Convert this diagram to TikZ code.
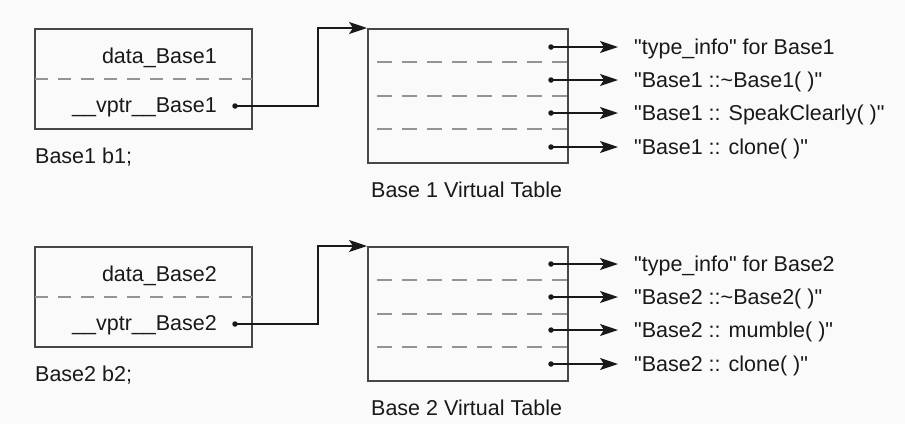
\documentclass[tikz,border=0pt]{standalone}
\usepackage{fontspec}
\setmainfont{Liberation Sans}[Ligatures=TeXOff]
\usetikzlibrary{arrows.meta}
\begin{document}
\begin{tikzpicture}[x=1pt,y=-1pt,
  every node/.style={font=\fontsize{21.5}{24}\selectfont, text=black!90, inner sep=0pt},
  objbox/.style={draw=black!72, line width=2pt, minimum width=217pt, minimum height=100pt, inner sep=0pt},
  vtbox/.style={draw=black!72, line width=2pt, minimum width=200pt, minimum height=134pt, inner sep=0pt},
  sep/.style={draw=black!42, line width=2.5pt, dash pattern=on 13pt off 10pt},
  vsep/.style={draw=black!42, line width=2.5pt, dash pattern=on 15pt off 10pt},
  ptr/.style={draw=black!90, line width=1.6pt, -{Stealth[length=18pt,width=12pt,inset=4pt]}},
  dotp/.style={circle, fill=black!90, minimum size=5.5pt, inner sep=0pt},
  lab/.style={anchor=west, text height=16pt, text depth=1pt}
]
\useasboundingbox (0,0) rectangle (905,424);
\fill[black!2] (0,0) rectangle (905,424);

% ---------- Base1 ----------
\node[objbox] (obj1) at (143.5,79) {};
\draw[sep] (35,79) -- (252,79);
\node[anchor=base east] (d1) at (217,63) {data\_Base1};
\node[anchor=base east] (v1) at (217,112) {\_\_vptr\_\_Base1};
\node[anchor=base west] (b1) at (35,163) {Base1 b1;};
\node[dotp] (p1) at (235,106) {};

\node[vtbox] (vt1) at (468,96) {};
\draw[vsep] (377,62) -- (568,62);
\draw[vsep] (377,96) -- (568,96);
\draw[vsep] (377,129) -- (568,129);
\node[anchor=base west] (vt1cap) at (371,197) {Base 1 Virtual Table};

\draw[ptr] (p1.center) -- ++(83,0) |- (vt1.north west);

\node[dotp] (e11) at (551,47) {};
\node[dotp] (e12) at (551,80) {};
\node[dotp] (e13) at (551,113) {};
\node[dotp] (e14) at (551,147) {};
\node[lab] (l11) at (634,47) {"type\_info" for Base1};
\node[lab] (l12) at (634,80) {"Base1 ::\textasciitilde Base1( )"};
\node[lab] (l13) at (634,113) {"Base1 :: SpeakClearly( )"};
\node[lab] (l14) at (634,147) {"Base1 :: clone( )"};
\draw[ptr] (e11.center) -- (618,47);
\draw[ptr] (e12.center) -- (618,80);
\draw[ptr] (e13.center) -- (618,113);
\draw[ptr] (e14.center) -- (618,147);

% ---------- Base2 ----------
\node[objbox] (obj2) at (143.5,297) {};
\draw[sep] (35,297) -- (252,297);
\node[anchor=base east] (d2) at (217,281) {data\_Base2};
\node[anchor=base east] (v2) at (217,330) {\_\_vptr\_\_Base2};
\node[anchor=base west] (b2) at (35,381) {Base2 b2;};
\node[dotp] (p2) at (235,324) {};

\node[vtbox] (vt2) at (468,314) {};
\draw[vsep] (377,280) -- (568,280);
\draw[vsep] (377,314) -- (568,314);
\draw[vsep] (377,347) -- (568,347);
\node[anchor=base west] (vt2cap) at (371,415) {Base 2 Virtual Table};

\draw[ptr] (p2.center) -- ++(83,0) |- (vt2.north west);

\node[dotp] (e21) at (551,264) {};
\node[dotp] (e22) at (551,297) {};
\node[dotp] (e23) at (551,330) {};
\node[dotp] (e24) at (551,364) {};
\node[lab] (l21) at (634,264) {"type\_info" for Base2};
\node[lab] (l22) at (634,297) {"Base2 ::\textasciitilde Base2( )"};
\node[lab] (l23) at (634,330) {"Base2 :: mumble( )"};
\node[lab] (l24) at (634,364) {"Base2 :: clone( )"};
\draw[ptr] (e21.center) -- (618,264);
\draw[ptr] (e22.center) -- (618,297);
\draw[ptr] (e23.center) -- (618,330);
\draw[ptr] (e24.center) -- (618,364);
\end{tikzpicture}
\end{document}
